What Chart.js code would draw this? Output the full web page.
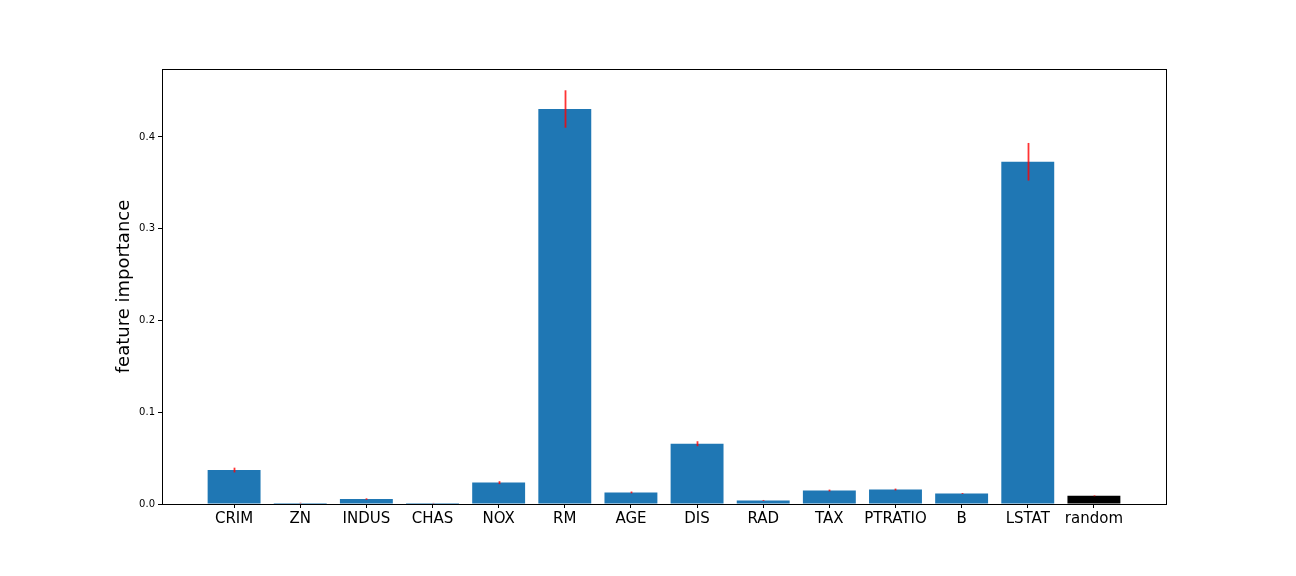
<!DOCTYPE html>
<html lang="en">
<head>
    <meta charset="UTF-8">
    <title>Feature importance</title>
    <script src="https://cdn.jsdelivr.net/npm/chart.js"></script>
    <style>
        body { margin: 0; background: #fff; }
        #wrap { width: 1296px; height: 576px; }
    </style>
</head>
<body>
    <div id="wrap">
        <canvas id="importanceChart"></canvas>
    </div>

    <script>
        // values
        const categories = ['CRIM', 'ZN', 'INDUS', 'CHAS', 'NOX', 'RM', 'AGE', 'DIS', 'RAD', 'TAX', 'PTRATIO', 'B', 'LSTAT', 'random'];
        const importance = [0.037, 0.0011, 0.0054, 0.001, 0.0233, 0.4305, 0.0126, 0.0657, 0.0039, 0.0147, 0.0158, 0.0114, 0.373, 0.0089];
        const errors = [0.0026, 0.0003, 0.0008, 0.0002, 0.0016, 0.0204, 0.001, 0.0027, 0.0005, 0.001, 0.001, 0.0005, 0.0205, 0.0005];
        const yTicks = [0, 0.1, 0.2, 0.3, 0.4];

        const barColors = categories.map(c => c === 'random' ? '#000000' : '#1f77b4');

        // red error bars + full frame around the plot
        const extras = {
            id: 'extras',
            afterDatasetsDraw(chart) {
                const ctx = chart.ctx;
                const x = chart.scales.x, y = chart.scales.y;
                ctx.save();
                ctx.strokeStyle = 'rgba(255, 0, 0, 0.8)';
                ctx.lineWidth = 1.8;
                importance.forEach((v, i) => {
                    const px = Math.round(x.getPixelForValue(i)) + 0.5;
                    ctx.beginPath();
                    ctx.moveTo(px, y.getPixelForValue(v - errors[i]));
                    ctx.lineTo(px, y.getPixelForValue(v + errors[i]));
                    ctx.stroke();
                });
                ctx.restore();
            },
            afterDraw(chart) {
                const a = chart.chartArea;
                const ctx = chart.ctx;
                ctx.save();
                ctx.strokeStyle = '#000';
                ctx.lineWidth = 1;
                ctx.strokeRect(Math.round(a.left) + 0.5, Math.round(a.top) + 0.5, Math.round(a.right - a.left), Math.round(a.bottom - a.top));
                ctx.restore();
            }
        };

        Chart.defaults.font.family = "'DejaVu Sans', sans-serif";
        Chart.defaults.color = '#000';

        new Chart(document.getElementById('importanceChart'), {
            type: 'bar',
            data: {
                datasets: [{
                    data: importance.map((v, i) => ({ x: i, y: v })),
                    backgroundColor: barColors,
                    borderWidth: 0,
                    barPercentage: 0.8,
                    categoryPercentage: 1.0
                }]
            },
            options: {
                responsive: true,
                maintainAspectRatio: false,
                animation: false,
                layout: { padding: { left: 0, top: 69, right: 130, bottom: 0 } },
                plugins: {
                    legend: { display: false },
                    tooltip: { enabled: false }
                },
                scales: {
                    x: {
                        type: 'linear',
                        offset: false,
                        min: -1.09,
                        max: 14.09,
                        afterBuildTicks: scale => { scale.ticks = categories.map((c, i) => ({ value: i })); },
                        afterFit: scale => { scale.height = 72; },
                        ticks: {
                            callback: v => categories[v],
                            font: { size: 15 },
                            padding: 2,
                            maxRotation: 0,
                            autoSkip: false
                        },
                        grid: { display: true, offset: false, drawOnChartArea: false, tickLength: 4, tickColor: '#000' },
                        border: { display: false }
                    },
                    y: {
                        min: 0,
                        max: 0.4741,
                        afterBuildTicks: scale => { scale.ticks = yTicks.map(v => ({ value: v })); },
                        afterFit: scale => { scale.width = 162; },
                        ticks: {
                            callback: v => v.toFixed(1),
                            font: { size: 10 },
                            padding: 3
                        },
                        grid: { display: true, drawOnChartArea: false, tickLength: 4, tickColor: '#000' },
                        border: { display: false },
                        title: {
                            display: true,
                            text: 'feature importance',
                            font: { size: 18 },
                            padding: { top: 114, bottom: 0 }
                        }
                    }
                }
            },
            plugins: [extras]
        });
    </script>
</body>
</html>
